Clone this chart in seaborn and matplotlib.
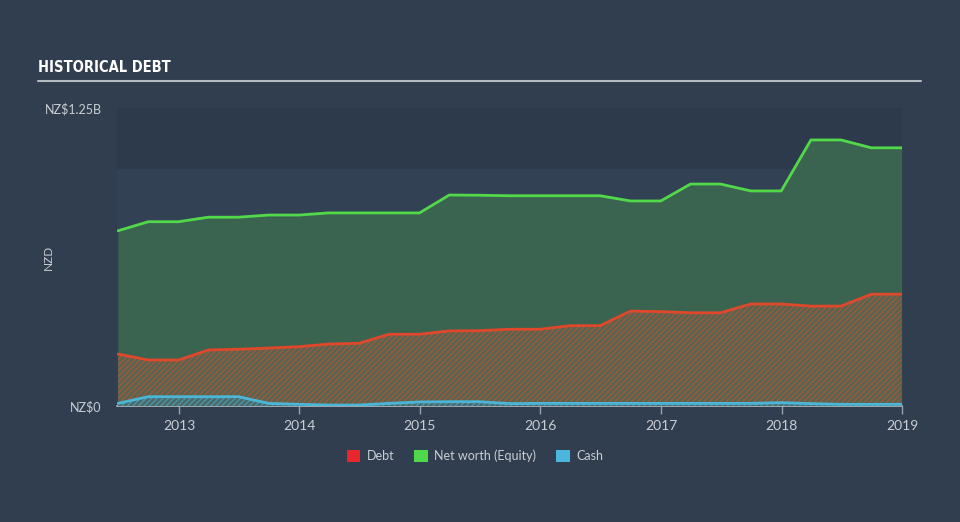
import matplotlib
matplotlib.use("Agg")
import matplotlib.pyplot as plt
import seaborn as sns
import pandas as pd
from matplotlib.patches import Patch

# ---- data (NZ$ billions, quarter ends) ----
dates = ["2012-06-30", "2012-09-30", "2012-12-31", "2013-03-31", "2013-06-30",
         "2013-09-30", "2013-12-31", "2014-03-31", "2014-06-30", "2014-09-30",
         "2014-12-31", "2015-03-31", "2015-06-30", "2015-09-30", "2015-12-31",
         "2016-03-31", "2016-06-30", "2016-09-30", "2016-12-31", "2017-03-31",
         "2017-06-30", "2017-09-30", "2017-12-31", "2018-03-31", "2018-06-30",
         "2018-09-30", "2018-12-31"]
equity = [0.735, 0.773, 0.773, 0.792, 0.792, 0.801, 0.801, 0.810, 0.810, 0.810,
          0.810, 0.885, 0.884, 0.882, 0.882, 0.882, 0.882, 0.860, 0.860, 0.931,
          0.931, 0.902, 0.902, 1.116, 1.116, 1.083, 1.083]
debt = [0.218, 0.193, 0.193, 0.235, 0.238, 0.243, 0.249, 0.260, 0.263, 0.301,
        0.301, 0.315, 0.316, 0.322, 0.322, 0.337, 0.337, 0.398, 0.396, 0.391,
        0.391, 0.428, 0.428, 0.419, 0.419, 0.469, 0.469]
cash = [0.011, 0.039, 0.039, 0.039, 0.039, 0.011, 0.007, 0.004, 0.004, 0.011,
        0.017, 0.018, 0.018, 0.010, 0.011, 0.011, 0.011, 0.011, 0.011, 0.011,
        0.011, 0.011, 0.014, 0.010, 0.007, 0.007, 0.007]
series_names = ["Debt", "Net worth (Equity)", "Cash"]
year_ticks = ["2013", "2014", "2015", "2016", "2017", "2018", "2019"]
y_tick_values = [0, 1.25]
y_tick_labels = ["NZ$0", "NZ$1.25B"]

df = pd.DataFrame({"date": pd.to_datetime(dates), "Debt": debt,
                   "Net worth (Equity)": equity, "Cash": cash})

BG = "#313e4f"
TXT = "#c9ced5"
C_DEBT, C_EQ, C_CASH = "#e0482b", "#52d94a", "#4bb6d8"
LEG_COLORS = {"Debt": "#e8262b", "Net worth (Equity)": "#4fd84c", "Cash": "#4ab8dc"}

sns.set_theme(style="dark")
plt.rcParams["font.family"] = ["Lato", "DejaVu Sans"]
plt.rcParams["hatch.linewidth"] = 0.8

fig = plt.figure(figsize=(9.6, 5.22), dpi=100, facecolor=BG)
ax = fig.add_axes([117/960, 1-406/522, 785/960, 298/522])
ax.set_facecolor("#334155")
ax.axhspan(1.0, 1.25, color="#2d3a4b", zorder=0)

x = df["date"]
ax.fill_between(x, 0, df["Net worth (Equity)"], color="#3a6350", zorder=1, lw=0)
ax.fill_between(x, 0, df["Debt"], facecolor="#5a634f", edgecolor="#a65a3b",
                hatch="//////", zorder=2, lw=0)
ax.fill_between(x, 0, df["Cash"], facecolor="#4d6a6a", edgecolor="#4a9cb4",
                hatch="//////", zorder=3, lw=0)

palette = {"Debt": C_DEBT, "Net worth (Equity)": C_EQ, "Cash": C_CASH}
long = df.melt(id_vars="date", var_name="series", value_name="value")
sns.lineplot(data=long, x="date", y="value", hue="series", palette=palette,
             hue_order=series_names, lw=2, ax=ax, legend=False, zorder=5)

ax.set_xlim(pd.Timestamp("2012-06-27"), pd.Timestamp("2019-01-01"))
ax.set_ylim(0, 1.25)
ax.set_xticks([pd.Timestamp(f"{y}-01-01") for y in year_ticks])
ax.set_xticklabels(year_ticks, color=TXT, fontsize=10)
ax.set_yticks(y_tick_values)
ax.set_yticklabels(y_tick_labels, color=TXT, fontsize=9)
ax.tick_params(axis="x", length=6, width=1, color="#9aa3ad", pad=4, bottom=True)
ax.tick_params(axis="y", length=0, pad=11)
ax.set_xlabel("")
ax.set_ylabel("NZD", color=TXT, fontsize=8.5)
ax.yaxis.set_label_coords(-(117 - 54) / 785, 0.5)
for s in ["top", "right", "left"]:
    ax.spines[s].set_visible(False)
ax.spines["bottom"].set_visible(True)
ax.spines["bottom"].set_color("#b0b7bf")
ax.spines["bottom"].set_linewidth(1.2)
ax.grid(False)

# title and rule
fig.text(38/960, 1-68/522, "HISTORICAL DEBT", color="white", fontsize=10.5,
         fontweight="bold", fontstretch="condensed", va="center", ha="left",
         family=["DejaVu Sans"])
fig.add_artist(plt.Line2D([38/960, 921/960], [1-81/522, 1-81/522],
                          color="#b4bac2", lw=1.5))

# legend
handles = [Patch(facecolor=LEG_COLORS[n], edgecolor="none") for n in series_names]
leg = fig.legend(handles, series_names, loc="center", bbox_to_anchor=(475/960, 1-456/522),
                 ncol=3, frameon=False, fontsize=9, handlelength=1.1, handleheight=1.1,
                 columnspacing=1.6, handletextpad=0.5)
for t in leg.get_texts():
    t.set_color(TXT)

fig.savefig("out.png", dpi=100, facecolor=BG)
